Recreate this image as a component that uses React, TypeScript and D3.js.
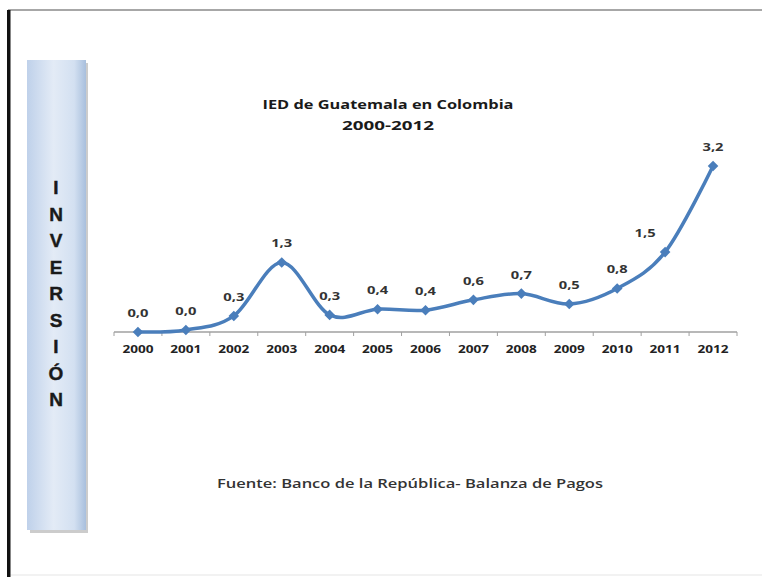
import React from "react";
import * as d3 from "d3";

const years = ["2000","2001","2002","2003","2004","2005","2006","2007","2008","2009","2010","2011","2012"];
const values = [0.0, 0.04, 0.31, 1.34, 0.33, 0.44, 0.42, 0.62, 0.74, 0.54, 0.84, 1.54, 3.2];
const titleLines = ["IED de Guatemala en Colombia", "2000-2012"];
const sideLetters = ["I","N","V","E","R","S","I","Ó","N"];
const footer = "Fuente: Banco de la República- Balanza de Pagos";

const W = 762, H = 577;
const LINE = "#4a7ebb";
const FONT = "'Open Sans', 'DejaVu Sans', sans-serif";

export default function App() {
  const x = d3.scaleBand<string>().domain(years).range([114, 737]).paddingInner(0).paddingOuter(0);
  const y = d3.scaleLinear().domain([0, 3.2]).range([332, 166]);
  const cx = (yr: string) => (x(yr) as number) + x.bandwidth() / 2;

  const pts: [number, number][] = years.map((yr, i) => [cx(yr), y(values[i])]);
  const path = d3.line().curve(d3.curveCardinal.tension(0))(pts) || "";
  const fmt = (v: number) => v.toFixed(1).replace(".", ",");

  const boundaries = d3.range(years.length + 1).map((i) => 114 + i * x.step());
  const labelDx = (i: number) => (i === 11 ? -20 : 0);
  const marker = d3.symbol(d3.symbolSquare, 56)() || "";

  return (
    <svg width={W} height={H} style={{ position: "absolute", left: 0, top: 0, background: "#fff" }}>
      <defs>
        <linearGradient id="panelGrad" x1="0" x2="1" y1="0" y2="0">
          <stop offset="0" stopColor="#bfd1ea" />
          <stop offset="0.45" stopColor="#e3ebf6" />
          <stop offset="0.8" stopColor="#d3e0f1" />
          <stop offset="1" stopColor="#a8bfdd" />
        </linearGradient>
      </defs>
      <rect x={0} y={0} width={W} height={H} fill="#ffffff" />
      {/* page frame */}
      <line x1={8} x2={W} y1={10} y2={10} stroke="#8a8a8a" strokeWidth={1.5} />
      <line x1={8} x2={W} y1={575} y2={575} stroke="#eeeeee" strokeWidth={1.5} />
      <rect x={7} y={10} width={3.5} height={H - 10} fill="#111" />

      {/* side panel */}
      <rect x={30} y={63} width={58} height={470} fill="#aaaaaa" opacity={0.6} />
      <rect x={27} y={60} width={59} height={470} fill="url(#panelGrad)" />
      {sideLetters.map((c, i) => (
        <text key={i} x={56} y={194 + i * 26.5} textAnchor="middle" fontFamily="'Liberation Sans', Arial, sans-serif"
          fontWeight="bold" fontSize={19} fill="#1a1a1a" stroke="#1a1a1a" strokeWidth={0.4}>{c}</text>
      ))}

      {/* title */}
      <text x={388} y={109} textAnchor="middle" fontFamily={FONT} fontWeight="bold" fontSize={13} fill="#1a1a1a"
        textLength={251} lengthAdjust="spacingAndGlyphs">{titleLines[0]}</text>
      <text x={388} y={130} textAnchor="middle" fontFamily={FONT} fontWeight="bold" fontSize={13} fill="#1a1a1a"
        textLength={92} lengthAdjust="spacingAndGlyphs">{titleLines[1]}</text>

      {/* axis */}
      <line x1={114} x2={737} y1={332} y2={332} stroke="#a0a0a0" strokeWidth={1.5} />
      {boundaries.map((bx, i) => (
        <line key={i} x1={bx} x2={bx} y1={332} y2={336} stroke="#a0a0a0" strokeWidth={1} />
      ))}
      {years.map((yr) => (
        <text key={yr} x={cx(yr)} y={353} textAnchor="middle" fontFamily={FONT} fontWeight="bold" fontSize={10}
          fill="#222" textLength={31} lengthAdjust="spacingAndGlyphs">{yr}</text>
      ))}

      {/* line */}
      <path d={path} fill="none" stroke={LINE} strokeWidth={3.5} strokeLinejoin="round" />
      {pts.map(([px, py], i) => (
        <path key={i} d={marker} transform={`translate(${px},${py}) rotate(45)`} fill={LINE} />
      ))}
      {pts.map(([px, py], i) => (
        <text key={"l" + i} x={px + labelDx(i)} y={py - 15} textAnchor="middle" fontFamily={FONT} fontWeight="bold"
          fontSize={10} fill="#333" textLength={21} lengthAdjust="spacingAndGlyphs">{fmt(values[i])}</text>
      ))}

      {/* footer */}
      <text x={410} y={488} textAnchor="middle" fontFamily={FONT} fontWeight={600} fontSize={13} fill="#333"
        textLength={386} lengthAdjust="spacingAndGlyphs">{footer}</text>
    </svg>
  );
}
